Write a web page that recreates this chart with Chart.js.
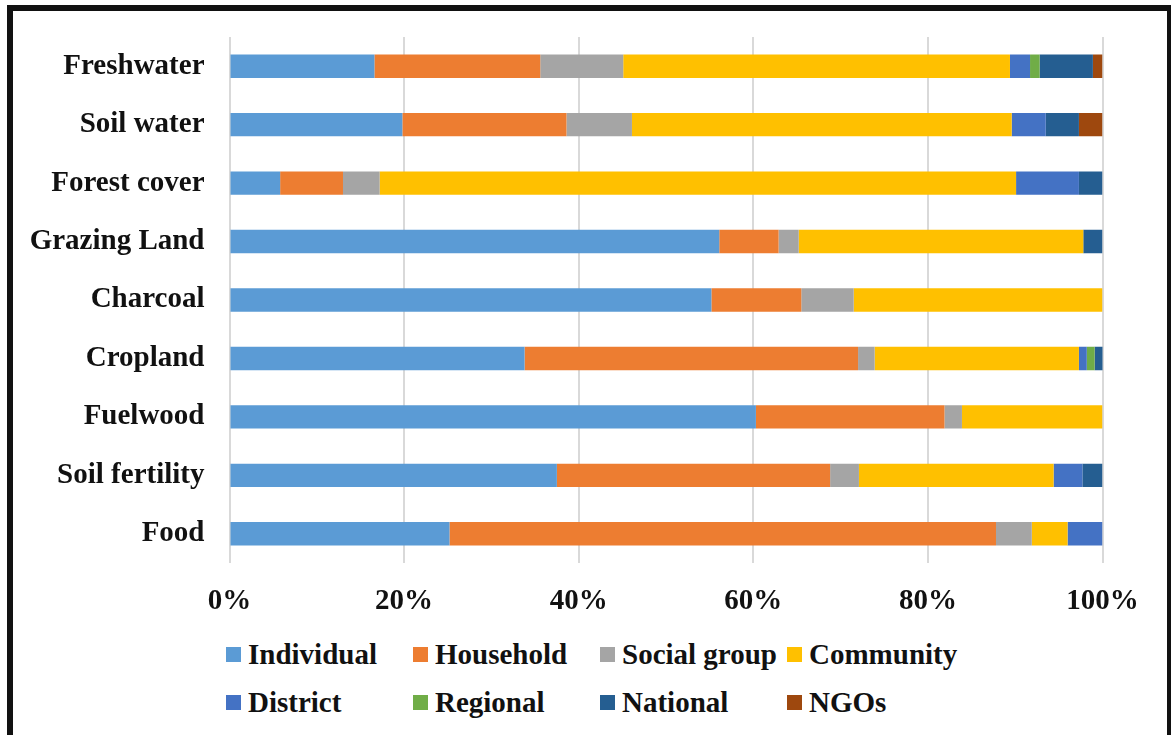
<!DOCTYPE html>
<html>
<head>
<meta charset="utf-8">
<script src="https://cdn.jsdelivr.net/npm/chart.js@4/dist/chart.umd.min.js"></script>
<style>
  html, body { margin: 0; padding: 0; background: #fff; overflow: hidden; }
  body { width: 1171px; height: 735px; position: relative; }
  #frame {
    position: absolute; left: 7px; top: 5px; width: 1166px; height: 760px;
    border: 6px solid #111; box-sizing: border-box;
  }
  #wrap { position: absolute; left: 0; top: 0; width: 1171px; height: 620px; }
  #legend {
    position: absolute; left: 226px; top: 630px; width: 760px;
    display: flex; flex-wrap: wrap;
    font: bold 29px "Liberation Serif", "Times New Roman", serif; color: #111;
  }
  .item { width: 187px; height: 48px; display: flex; align-items: center; white-space: nowrap; }
  .box { width: 15px; height: 15px; margin-right: 7px; flex: none; }
</style>
</head>
<body>
<div id="frame"></div>
<div id="wrap"><canvas id="chart"></canvas></div>
<div id="legend"></div>
<script>
// Kategorien (oben nach unten)
const categories = ['Freshwater', 'Soil water', 'Forest cover', 'Grazing Land', 'Charcoal',
                    'Cropland', 'Fuelwood', 'Soil fertility', 'Food'];

// Anteile in % je Ebene
const individual  = [16.6, 19.8,  5.8, 56.1, 55.2, 33.8, 60.3, 37.5, 25.2];
const household   = [19.0, 18.8,  7.2,  6.8, 10.3, 38.2, 21.6, 31.3, 62.6];
const socialGroup = [ 9.5,  7.5,  4.2,  2.3,  6.0,  1.9,  2.0,  3.3,  4.1];
const community   = [44.3, 43.5, 72.9, 32.6, 28.5, 23.4, 16.1, 22.3,  4.1];
const district    = [ 2.3,  3.9,  7.2,  0,    0,    0.9,  0,    3.3,  4.0];
const regional    = [ 1.1,  0,    0,    0,    0,    0.9,  0,    0,    0  ];
const national    = [ 6.1,  3.8,  2.7,  2.2,  0,    1.0,  0,    2.3,  0  ];
const ngos        = [ 1.1,  2.7,  0,    0,    0,    0,    0,    0,    0  ];

const seriesNames = ['Individual', 'Household', 'Social group', 'Community',
                     'District', 'Regional', 'National', 'NGOs'];
const seriesData  = [individual, household, socialGroup, community,
                     district, regional, national, ngos];

const xTicks = [0, 20, 40, 60, 80, 100];

// Excel-Farben
const COLORS = ['#5B9BD5', '#ED7D31', '#A5A5A5', '#FFC000',
                '#4472C4', '#70AD47', '#255E91', '#9E480E'];

const FONT = { family: '"Liberation Serif", "Times New Roman", serif', size: 29, weight: 'bold' };

const chart = new Chart(document.getElementById('chart'), {
  type: 'bar',
  data: {
    labels: categories,
    datasets: seriesNames.map((name, i) => ({
      label: name,
      data: seriesData[i],
      backgroundColor: COLORS[i],
      borderWidth: 0,
      barPercentage: 0.4,
      categoryPercentage: 1
    }))
  },
  options: {
    indexAxis: 'y',
    responsive: true,
    maintainAspectRatio: false,
    animation: false,
    layout: { padding: { top: 37, right: 68.5, left: 0, bottom: 0 } },
    plugins: { legend: { display: false }, tooltip: { enabled: false } },
    scales: {
      x: {
        stacked: true,
        min: 0,
        max: 100,
        afterBuildTicks: s => { s.ticks = xTicks.map(v => ({ value: v })); },
        grid: { color: '#d9d9d9', lineWidth: 2, drawTicks: false },
        border: { display: false },
        ticks: { font: FONT, color: '#111', padding: 21, callback: v => v + '%' },
        afterFit: s => { s.height = 57; }
      },
      y: {
        stacked: true,
        grid: { display: false, drawTicks: false },
        border: { display: false },
        ticks: { font: FONT, color: '#111', padding: 25 },
        afterFit: s => {
          s.width = 229.5;
          // Label-Überstand nicht in den Rand einrechnen
          s.paddingTop = 0;
          s.paddingBottom = 0;
        }
      }
    }
  }
});

// Legende im Excel-Raster
const legend = document.getElementById('legend');
chart.data.datasets.forEach(ds => {
  const item = document.createElement('div');
  item.className = 'item';
  const box = document.createElement('span');
  box.className = 'box';
  box.style.background = ds.backgroundColor;
  item.appendChild(box);
  item.appendChild(document.createTextNode(ds.label));
  legend.appendChild(item);
});
</script>
</body>
</html>
